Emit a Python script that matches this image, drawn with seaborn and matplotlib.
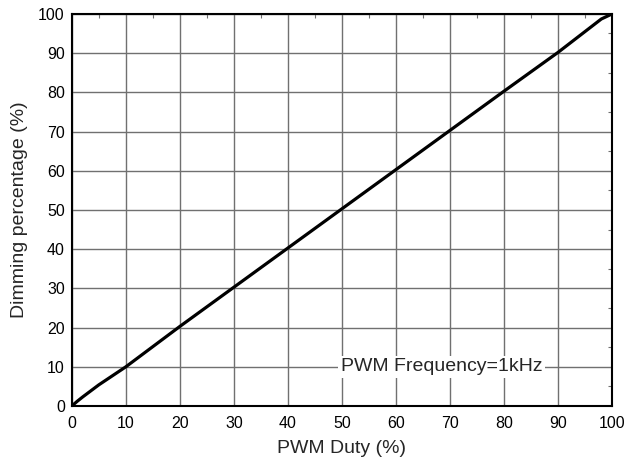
import matplotlib
matplotlib.use("Agg")
import matplotlib.pyplot as plt
import seaborn as sns
import pandas as pd
from matplotlib.ticker import MultipleLocator

duty = [0, 1, 2, 5, 10, 20, 30, 40, 50, 60, 70, 80, 90, 98, 100]
dimming = [0, 1.2, 2.3, 5.4, 10, 20.3, 30.3, 40.3, 50.3, 60.3, 70.3, 80.3, 90.2, 98.7, 100]
df = pd.DataFrame({"duty": duty, "dimming": dimming})

sns.set_style("white")
plt.rcParams["font.family"] = ["Liberation Sans", "DejaVu Sans"]

fig = plt.figure(figsize=(6.24, 4.63), dpi=100)
ax = fig.add_axes([0.115, 0.123, 0.866, 0.847])

sns.lineplot(data=df, x="duty", y="dimming", ax=ax, color="black", linewidth=2.3, zorder=3)

ax.set_xlim(0, 100)
ax.set_ylim(0, 100)
ax.xaxis.set_major_locator(MultipleLocator(10))
ax.yaxis.set_major_locator(MultipleLocator(10))
ax.xaxis.set_minor_locator(MultipleLocator(5))
ax.yaxis.set_minor_locator(MultipleLocator(5))
ax.grid(True, which="major", color="#707070", linewidth=1.0)
ax.tick_params(which="both", direction="in", top=True, right=True, labelsize=11.5, colors="black")
ax.tick_params(which="major", length=0, pad=5)
ax.tick_params(axis="x", which="major", pad=7)
ax.tick_params(which="minor", length=3, width=0.8, color="#707070")
for s in ax.spines.values():
    s.set_color("black")
    s.set_linewidth(1.5)

ax.set_xlabel("PWM Duty (%)", fontsize=14, labelpad=7)
ax.set_ylabel("Dimming percentage (%)", fontsize=14, labelpad=7)

ax.text(68.5, 10, "PWM Frequency=1kHz", fontsize=14, ha="center", va="center",
        bbox=dict(facecolor="white", edgecolor="none", pad=2), zorder=4)

fig.savefig("out.png", dpi=100)
